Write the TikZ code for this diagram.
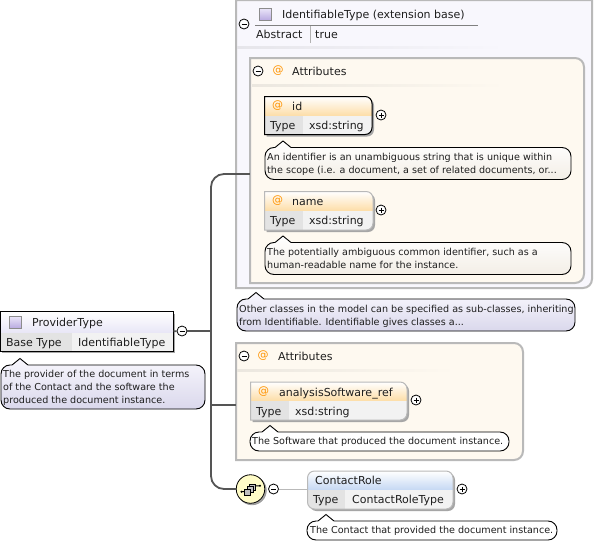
\documentclass[tikz,border=0pt]{standalone}
\usepackage{fontspec}
\setmainfont{DejaVu Sans}
\usetikzlibrary{calc}
\definecolor{ink}{HTML}{1E1E1E}
\definecolor{edge}{HTML}{B9B9B9}
\definecolor{wire}{HTML}{555555}
\definecolor{cream}{HTML}{FEF9F0}
\definecolor{creamlow}{HTML}{F3EEE6}
\definecolor{lav}{HTML}{F8F7FD}
\definecolor{lavlow}{HTML}{DAD8EC}
\definecolor{heador}{HTML}{FDDDA6}
\definecolor{headbl}{HTML}{C5D8F3}
\definecolor{headlav}{HTML}{E8E6F6}
\definecolor{cellg}{HTML}{E3E3E3}
\definecolor{celll}{HTML}{F2F2F2}
\definecolor{iconlo}{HTML}{B8A9E0}
\definecolor{iconhi}{HTML}{E9E4F8}
\tikzset{
  big/.style={font=\fontsize{11}{13}\selectfont,text=ink,inner sep=0pt,anchor=base west},
  doc/.style={font=\fontsize{9.6}{13}\selectfont,text=ink,inner sep=0pt,anchor=north west,align=left},
  atsign/.style={font=\fontsize{11}{13}\selectfont,text=orange!85!yellow,inner sep=0pt},
  expander/.style={circle,draw=black,fill=white,line width=.8pt,minimum size=10pt,inner sep=0pt},
  anchorbox/.style={inner sep=0pt,minimum width=0pt,minimum height=0pt},
  wirethick/.style={draw=wire,line width=1.8pt},
  wirethin/.style={draw=edge,line width=1pt}
}
\newcommand{\rpath}[4]{(#1,#2) -- ({#3-7},#2) .. controls ({#3-3},#2) and (#3,{#2+3}) .. (#3,{#2+7}) -- (#3,{#4-7}) .. controls (#3,{#4-3}) and ({#3-3},#4) .. ({#3-7},#4) -- (#1,#4) -- cycle}
% table box: x1 y1 x2 ymid y2 xdiv border head
\newcommand{\tbl}[8]{%
  \fill[gray!70] \rpath{#1+2}{#2+2}{#3+2}{#5+2};
  \begin{scope}
    \clip \rpath{#1}{#2}{#3}{#5};
    \shade[top color=white,bottom color=#8] (#1,#2) rectangle (#3,#4);
    \fill[cellg] (#1,#4) rectangle (#6,#5);
    \fill[celll] (#6,#4) rectangle (#3,#5);
  \end{scope}
  \draw[#7,line width=1pt] \rpath{#1}{#2}{#3}{#5};
}
% bubble: x1 y1 x2 y2 tipx top bottom
\newcommand{\bub}[7]{%
  \draw[black,line width=.9pt,top color=#6,bottom color=#7]
    ({#1+9},#2) -- ({#5-8},#2) -- (#5,{#2-6.5}) -- ({#5+8},#2) -- ({#3-9},#2)
    .. controls ({#3-4},#2) and (#3,{#2+4}) .. (#3,{#2+9}) -- (#3,{#4-9})
    .. controls (#3,{#4-4}) and ({#3-4},#4) .. ({#3-9},#4)
    -- ({#1+9},#4) .. controls ({#1+4},#4) and (#1,{#4-4}) .. (#1,{#4-9})
    -- (#1,{#2+9}) .. controls (#1,{#2+4}) and ({#1+4},#2) .. ({#1+9},#2) -- cycle;
}
% group box: x1 y1 x2 y2
\newcommand{\grp}[4]{%
  \draw[edge,line width=2pt,fill=cream] (#1,#2) -- ({#3-9},#2) .. controls ({#3-4},#2) and (#3,{#2+4}) .. (#3,{#2+9})
    -- (#3,{#4-9}) .. controls (#3,{#4-4}) and ({#3-4},#4) .. ({#3-9},#4) -- (#1,#4) -- cycle;
}
\newcommand{\fade}[4]{\shade[left color=#4!85!gray,right color=#4] (#1,{#3-1}) rectangle (#2,{#3+1});}
\newcommand{\cicon}[2]{\shade[draw=gray!90,line width=.7pt,top color=iconhi,bottom color=iconlo] (#1,#2) rectangle ({#1+12},{#2+12});}
\begin{document}
\begin{tikzpicture}[x=1pt,y=-1pt]
\useasboundingbox (0,0) rectangle (594,544);
\clip (0,0) rectangle (594,544);
\fill[white] (0,0) rectangle (594,544);

% outer extension box
\draw[edge,line width=2pt,fill=lav] (236,0) -- (592,0) -- (592,279) .. controls (592,284) and (588,288) .. (583,288) -- (236,288) -- cycle;
\node[anchorbox] (outer) at (236,174) {};
\cicon{259.5}{8.5}
\node[big] (outername) at (282,18) {IdentifiableType (extension base)};
\draw[gray,line width=.8pt] (255,25.5) -- (478,25.5);
\draw[gray!60,line width=.8pt] (310,26) -- (310,43);
\node[big] (abskey) at (256,38) {Abstract};
\node[big] (absval) at (315,38) {true};
\fade{237}{505}{47}{lav}

% inherited attributes
\grp{250}{58}{584}{283}
\node[anchorbox] (attrA) at (250,174) {};
\node[atsign] (atA) at (278,71) {@};
\node[big] (attrAname) at (292,75) {Attributes};
\fade{252}{505}{85}{cream}

\tbl{264.5}{96.5}{372}{116}{134.5}{303}{black}{heador}
\node[atsign] (atid) at (277.5,106) {@};
\node[big] (idname) at (292,110) {id};
\node[big] (idkey) at (270,129) {Type};
\node[big] (idval) at (309,129) {xsd:string};
\node[expander] (idplus) at (381,115) {};
\draw[line width=.7pt] (378.5,115) -- (383.5,115) (381,112.5) -- (381,117.5);
\bub{265}{147.5}{571}{179.5}{283}{white}{creamlow}
\node[doc] (iddoc) at (267,153.5) {An identifier is an unambiguous string that is unique within\\the scope (i.e. a document, a set of related documents, or...};

\tbl{264.5}{191.5}{373}{211}{230}{303}{edge}{heador}
\node[atsign] (atname) at (277.5,201) {@};
\node[big] (namename) at (292,205) {name};
\node[big] (namekey) at (270,224) {Type};
\node[big] (nameval) at (309,224) {xsd:string};
\node[expander] (nameplus) at (381,210) {};
\draw[line width=.7pt] (378.5,210) -- (383.5,210) (381,207.5) -- (381,212.5);
\bub{265}{242.5}{571}{274.5}{283}{white}{creamlow}
\node[doc] (namedoc) at (267,248) {The potentially ambiguous common identifier, such as a\\human-readable name for the instance.};

\bub{237}{299}{575}{331}{256}{lav}{lavlow}
\node[doc] (outerdoc) at (239,304.5) {Other classes in the model can be specified as sub-classes, inheriting\\from Identifiable. Identifiable gives classes a...};

% own attributes
\grp{236}{343}{523}{460}
\node[anchorbox] (attrB) at (236,405) {};
\node[atsign] (atB) at (263,356) {@};
\node[big] (attrBname) at (278,360) {Attributes};
\fade{237}{455}{370}{cream}
\tbl{250.5}{382}{407}{401}{420}{289}{edge}{heador}
\node[atsign] (atsw) at (263.5,392) {@};
\node[big] (swname) at (279,396) {analysisSoftware\_ref};
\node[big] (swkey) at (256,415) {Type};
\node[big] (swval) at (295,415) {xsd:string};
\node[expander] (swplus) at (416,400) {};
\draw[line width=.7pt] (413.5,400) -- (418.5,400) (416,397.5) -- (416,402.5);
\bub{250}{432}{509}{451}{270}{white}{white}
\node[doc] (swdoc) at (252,437) {The Software that produced the document instance.};

% root
\fill[gray!70] (2,313.5) rectangle (175,353);
\shade[top color=white,bottom color=headlav] (0.5,311.5) rectangle (173,333);
\fill[cellg] (0.5,333) rectangle (72,351);
\fill[celll] (72,333) rectangle (173,351);
\node[draw=black,line width=1pt,minimum width=172.5pt,minimum height=39.5pt,inner sep=0pt] (root) at (86.75,331.25) {};
\cicon{9.5}{316.5}
\node[big] (rootname) at (32,326) {ProviderType};
\node[big] (rootkey) at (6,346) {Base Type};
\node[big] (rootval) at (78,346) {IdentifiableType};
\bub{1}{365}{205}{409}{20}{lav}{lavlow}
\node[doc] (rootdoc) at (3,369.5) {The provider of the document in terms\\of the Contact and the software the\\produced the document instance.};

% connectors
\coordinate (trunk) at (211,331);
\node[circle,draw=gray!80,line width=.8pt,fill=gray!70,minimum size=28.5pt,inner sep=0pt] (seqshadow) at (252,490.5) {};
\node[circle,draw=black,line width=.8pt,fill=yellow!22,minimum size=28.5pt,inner sep=0pt] (seq) at (250.5,489) {};
\node[expander] (rootminus) at (182,331) {};
\draw[line width=.7pt] (179.5,331) -- (184.5,331);
\draw[wirethick] (root.east) -- (rootminus);
\draw[wirethick,line width=2.8pt] (rootminus) -- (trunk);
\draw[wirethick,rounded corners=13pt] (trunk) |- (outer);
\draw[wirethick] (outer) -- (attrA);
\draw[wirethick] (trunk) -- (211,405) -- (attrB);
\draw[wirethick,rounded corners=13pt] (trunk) |- (seq);

% minus buttons
\node[expander] (outerminus) at (244,24) {};
\draw[line width=.7pt] (241.5,24) -- (246.5,24);
\node[expander] (attrAminus) at (258,71) {};
\draw[line width=.7pt] (255.5,71) -- (260.5,71);
\node[expander] (attrBminus) at (244,356) {};
\draw[line width=.7pt] (241.5,356) -- (246.5,356);

% sequence compositor icon
\draw[black,line width=1pt] (241.5,491.7) -- (245,491.7) (255,486) -- (260,485.7);
\fill[black] (241.5,491.7) circle (1.2pt) (260,485.7) circle (1.2pt);
\draw[black,fill=gray!50,line width=.6pt] (249.5,484) rectangle (255.5,490);
\draw[black,fill=gray!50,line width=.6pt] (247,486.5) rectangle (253,492.5);
\draw[black,fill=gray!50,line width=.6pt] (244.5,489) rectangle (250.5,495);
\node[expander] (seqminus) at (273.5,489) {};
\draw[line width=.7pt] (271,489) -- (276,489);

% contact role
\node[anchorbox] (crwest) at (307.5,489) {};
\draw[wirethin] (seqminus) -- (crwest);
\fill[gray!70,rounded corners=7pt] (309.5,473) rectangle (455,511);
\begin{scope}
  \clip[rounded corners=7pt] (307.5,471) rectangle (453,509);
  \shade[top color=white,bottom color=headbl] (307.5,471) rectangle (453,490);
  \fill[cellg] (307.5,490) rectangle (345,509);
  \fill[celll] (345,490) rectangle (453,509);
\end{scope}
\draw[edge,line width=1pt,rounded corners=7pt] (307.5,471) rectangle (453,509);
\node[big] (crname) at (315,484) {ContactRole};
\node[big] (crkey) at (313,503) {Type};
\node[big] (crval) at (352,503) {ContactRoleType};
\node[expander] (crplus) at (462,489) {};
\draw[line width=.7pt] (459.5,489) -- (464.5,489) (462,486.5) -- (462,491.5);
\bub{307}{521}{557}{540}{326}{white}{white}
\node[doc] (crdoc) at (310,526) {The Contact that provided the document instance.};
\end{tikzpicture}
\end{document}
